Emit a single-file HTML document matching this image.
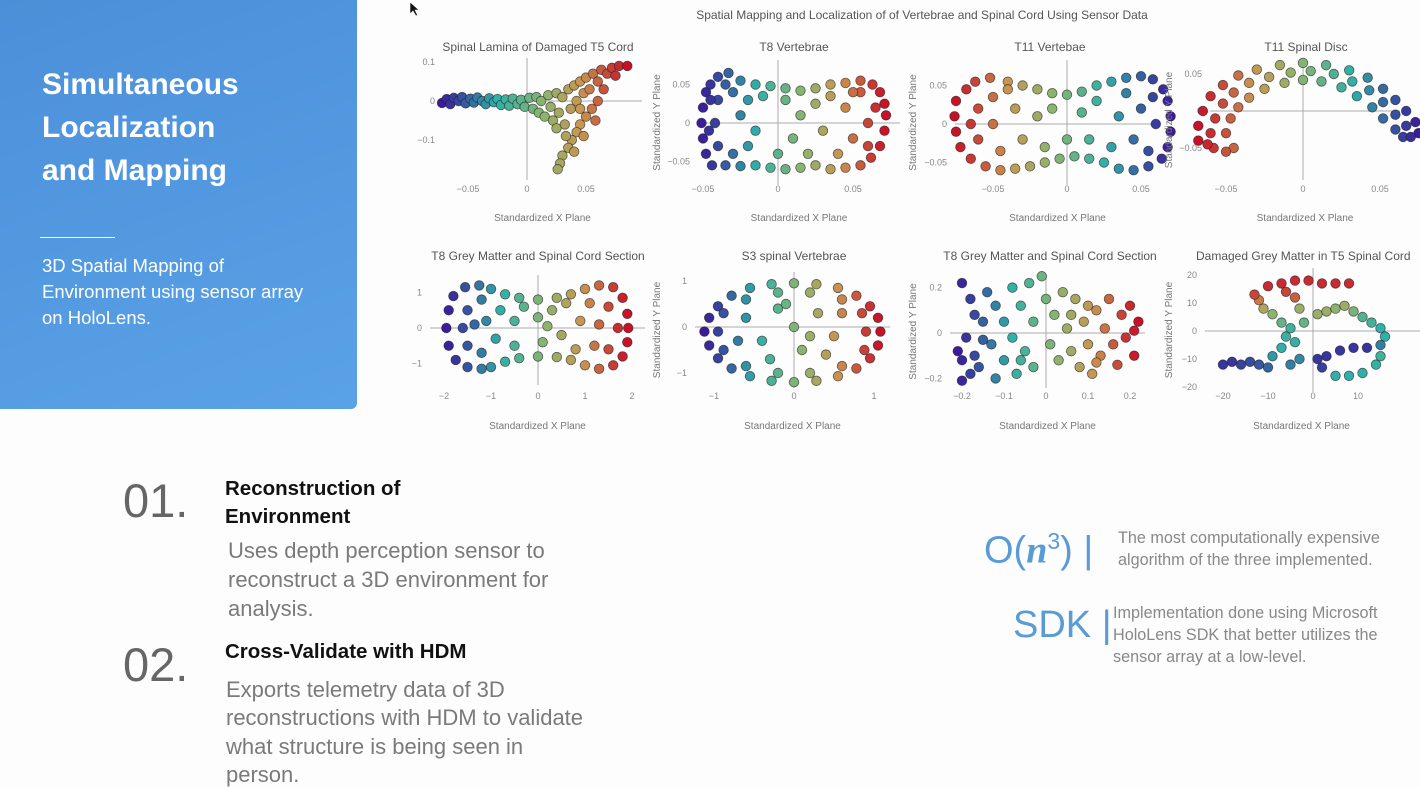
<!DOCTYPE html>
<html><head><meta charset="utf-8">
<style>
body{margin:0;width:1420px;height:780px;overflow:hidden;background:#fdfdfd;font-family:"Liberation Sans",sans-serif;position:relative}
.abs{position:absolute;margin:0;white-space:nowrap;line-height:1.15}
#panel{position:absolute;left:0;top:0;width:357px;height:409px;background:linear-gradient(160deg,#4b8fd8,#5aa2e8);border-radius:0 0 6px 0}
.ttl{color:#fff;font-weight:bold;font-size:30px;left:42px}
.sub{color:#fff;font-size:18.5px;left:42px}
.num{font-size:47px;color:#666}
.hd{font-size:20.5px;font-weight:bold;color:#111}
.ds{font-size:22px;color:#7a7a7a}
.rt{font-size:16.2px;color:#888}
.big{color:#5b9bd5;font-size:38px}
</style></head><body>
<div id="panel">
 <p class="abs ttl" style="top:68px">Simultaneous</p>
 <p class="abs ttl" style="top:111px">Localization</p>
 <p class="abs ttl" style="top:154px">and Mapping</p>
 <div class="abs" style="left:40px;top:237px;width:75px;height:1px;background:#fff"></div>
 <p class="abs sub" style="top:255px">3D Spatial Mapping of</p>
 <p class="abs sub" style="top:281px">Environment using sensor array</p>
 <p class="abs sub" style="top:307px">on HoloLens.</p>
</div>

<p class="abs num" style="left:123px;top:474px">01.</p>
<p class="abs hd" style="left:225px;top:477px">Reconstruction of</p>
<p class="abs hd" style="left:225px;top:505px">Environment</p>
<p class="abs ds" style="left:228px;top:538px">Uses depth perception sensor to</p>
<p class="abs ds" style="left:228px;top:567px">reconstruct a 3D environment for</p>
<p class="abs ds" style="left:228px;top:596px">analysis.</p>
<p class="abs num" style="left:123px;top:638px">02.</p>
<p class="abs hd" style="left:225px;top:640px">Cross-Validate with HDM</p>
<p class="abs ds" style="left:226px;top:677px">Exports telemetry data of 3D</p>
<p class="abs ds" style="left:226px;top:705px">reconstructions with HDM to validate</p>
<p class="abs ds" style="left:226px;top:734px">what structure is being seen in</p>
<p class="abs ds" style="left:226px;top:762px">person.</p>

<p class="abs big" style="left:984px;top:528px">O(<i style="font-family:'Liberation Serif',serif;font-weight:bold">n</i><sup style="font-size:23px">3</sup>) |</p>
<p class="abs rt" style="left:1118px;top:529px">The most computationally expensive</p>
<p class="abs rt" style="left:1118px;top:551px">algorithm of the three implemented.</p>
<p class="abs big" style="left:1013px;top:604px">SDK |</p>
<p class="abs rt" style="left:1113px;top:604px">Implementation done using Microsoft</p>
<p class="abs rt" style="left:1113px;top:626px">HoloLens SDK that better utilizes the</p>
<p class="abs rt" style="left:1113px;top:648px">sensor array at a low-level.</p>

<svg id="charts" width="1420" height="440" style="position:absolute;left:0;top:0">
 <text x="922" y="19" text-anchor="middle" font-size="12" fill="#555" font-family="Liberation Sans, sans-serif">Spatial Mapping and Localization of of Vertebrae and Spinal Cord Using Sensor Data</text>
 <path d="M410 2 L410 14 L413 11 L416 16 L417.5 15 L415 10 L419 10 Z" fill="#111" stroke="#fff" stroke-width="0.6"/>
</svg>

<script>
// ---- data ----
const c1x=[-0.072,-0.068,-0.065,-0.062,-0.058,-0.055,-0.052,-0.048,-0.045,-0.042,-0.038,-0.035,-0.032,-0.028,-0.025,-0.022,-0.018,-0.015,-0.012,-0.008,-0.005,-0.002,0.002,0.005,0.008,0.01,0.012,0.015,0.018,0.02,0.022,0.025,0.027,0.03,0.032,0.035,0.037,0.04,0.042,0.045,0.048,0.05,0.053,0.056,0.06,0.063,0.068,0.072,0.078,0.085,0.075,0.065,0.06,0.055,0.05,0.045,0.042,0.038,0.035,0.03,0.028,0.026,0.04,0.048,0.058,0.033,0.025,0.045];
const c1y=[-0.005,0.005,-0.008,0.008,0,0.01,-0.006,0.006,-0.004,0.009,0,-0.008,0.007,-0.003,0.005,-0.01,0.004,-0.012,0.006,-0.008,0.003,-0.015,0.008,-0.02,0.01,-0.03,0,-0.04,0.015,-0.015,-0.05,0.02,-0.03,0.01,-0.06,0.03,-0.02,0.04,0,0.05,0.02,0.06,0.03,0.07,0.05,0.08,0.07,0.085,0.09,0.09,0.065,0.03,0,-0.02,-0.04,-0.06,-0.08,-0.1,-0.12,-0.14,-0.16,-0.175,-0.13,-0.09,-0.05,-0.09,-0.07,-0.02];
const c2x=[-0.048,-0.05,-0.051,-0.05,-0.048,-0.044,-0.045,-0.04,-0.033,-0.025,-0.015,-0.005,0.005,0.015,0.025,0.035,0.045,0.055,0.063,0.068,0.071,0.072,0.071,0.068,0.062,0.055,0.045,0.035,0.025,0.015,0.005,-0.005,-0.015,-0.025,-0.035,-0.04,-0.04,-0.042,-0.03,-0.03,-0.02,-0.02,-0.025,-0.015,-0.01,0,0.005,0.01,0.015,0.02,0.025,0.03,0.035,0.04,0.045,0.05,0.055,0.06,0.06,0.065,0.05,-0.035,-0.045,-0.046];
const c2y=[0.04,0.02,0,-0.02,-0.04,-0.055,0.05,0.06,0.065,0.055,0.05,0.048,0.045,0.042,0.045,0.05,0.052,0.055,0.05,0.04,0.025,0.01,-0.01,-0.03,-0.045,-0.055,-0.058,-0.06,-0.055,-0.058,-0.06,-0.058,-0.055,-0.056,-0.055,0.03,-0.03,0,0.04,-0.04,0.03,-0.03,0.01,-0.01,0.035,-0.04,0.03,-0.02,0.01,-0.04,0.025,-0.01,0.035,-0.04,0.02,-0.02,0.04,0,-0.03,0.02,0.04,0.05,0.03,-0.01];
const c3x=[-0.075,-0.076,-0.075,-0.072,-0.068,-0.062,-0.052,-0.04,-0.03,-0.02,-0.01,0,0.01,0.02,0.03,0.04,0.05,0.058,0.065,0.068,0.07,0.07,0.068,0.064,0.055,0.045,0.035,0.025,0.015,0.005,-0.005,-0.015,-0.025,-0.035,-0.045,-0.055,-0.065,-0.06,-0.06,-0.05,-0.05,-0.045,-0.035,-0.03,-0.02,-0.015,-0.01,0,0.01,0.015,0.02,0.03,0.035,0.04,0.045,0.05,0.055,0.06,0.058,-0.065,-0.04];
const c3y=[0.03,0.01,-0.01,-0.03,0.045,0.055,0.06,0.055,0.05,0.045,0.04,0.038,0.042,0.05,0.055,0.06,0.062,0.058,0.045,0.03,0.01,-0.01,-0.03,-0.045,-0.055,-0.06,-0.058,-0.05,-0.045,-0.042,-0.045,-0.05,-0.055,-0.058,-0.06,-0.055,-0.045,0.02,-0.02,0.035,0,-0.035,0.02,-0.02,0.01,-0.03,0.02,-0.02,0.015,-0.02,0.03,-0.03,0.01,0.04,-0.02,0.02,-0.035,0,0.035,0,0.045];
const c4x=[-0.068,-0.068,-0.065,-0.06,-0.052,-0.042,-0.03,-0.015,0,0.015,0.03,0.042,0.052,0.06,0.067,0.073,0.075,-0.045,-0.05,-0.047,-0.042,-0.035,-0.025,-0.012,0,0.012,0.025,0.035,0.045,0.052,0.06,0.065,-0.058,-0.06,-0.057,-0.052,-0.045,-0.035,-0.022,-0.008,0.005,0.02,0.032,0.043,0.052,0.06,0.067,0.07,-0.05,-0.062];
const c4y=[-0.04,-0.02,0,0.02,0.035,0.048,0.056,0.062,0.065,0.062,0.055,0.045,0.03,0.015,0,-0.015,-0.03,-0.05,-0.03,-0.01,0.005,0.018,0.03,0.038,0.042,0.04,0.032,0.02,0.005,-0.01,-0.025,-0.035,-0.05,-0.03,-0.01,0.01,0.025,0.038,0.046,0.052,0.054,0.05,0.04,0.028,0.012,-0.005,-0.02,-0.035,-0.055,-0.045];
const c5x=[-1.9,-1.95,-1.9,-1.75,-1.5,-1.2,-1.8,-1.55,-1.25,-1,-0.7,-0.4,0,0.4,0.7,1,1.3,1.6,1.8,1.9,1.92,1.9,1.8,1.6,1.3,1,0.7,0.4,0,-0.4,-0.7,-1,-1.5,-1.5,-1.6,-1.2,-1.2,-1.1,-0.9,-0.8,-0.5,-0.5,-0.3,0,0.1,0.3,0.5,0.6,0.8,0.9,1.1,1.2,1.3,1.5,1.5,1.7,-1.35,0.2];
const c5y=[0.5,0,-0.5,-0.9,-1.1,-1.15,0.9,1.15,1.2,1.1,0.95,0.85,0.8,0.85,0.95,1.1,1.2,1.15,0.85,0.4,0,-0.4,-0.8,-1.05,-1.15,-1.05,-0.9,-0.82,-0.8,-0.85,-0.95,-1.1,0.5,-0.5,0,0.8,-0.7,0.2,-0.3,0.5,0.2,-0.5,0.6,0.3,-0.4,0.5,-0.2,0.7,-0.6,0.2,0.7,-0.5,0.1,0.6,-0.6,0,0.1,0.05];
const c6x=[1.08,1.05,0.95,0.78,0.55,0.28,0,-0.28,-0.55,-0.78,-0.95,-1.06,-1.12,-1.06,-0.95,-0.78,-0.55,-0.28,0,0.28,0.55,0.78,0.95,1.05,0.9,0.85,0.6,0.2,-0.2,-0.6,-0.88,-0.95,-0.88,-0.6,-0.2,0.2,0.6,0.88,-0.6,-0.4,-0.2,0,0.1,0.3,0.5,0.6,-0.7,0.2,-0.3,0.4,-0.1];
const c6y=[-0.1,0.2,0.45,0.68,0.85,0.93,0.95,0.93,0.85,0.68,0.45,0.2,-0.1,-0.4,-0.68,-0.9,-1.07,-1.17,-1.2,-1.17,-1.07,-0.9,-0.68,-0.4,-0.1,0.3,0.6,0.75,0.75,0.6,0.3,-0.1,-0.5,-0.85,-1,-1,-0.85,-0.5,0.2,-0.3,0.4,0,-0.5,0.3,-0.2,0.3,-0.3,-0.2,-0.7,-0.6,0.5];
const c7x=[-0.2,-0.18,-0.17,-0.19,-0.21,-0.2,-0.18,-0.2,-0.16,-0.15,-0.14,-0.13,-0.12,-0.12,-0.1,-0.1,-0.08,-0.08,-0.07,-0.06,-0.05,-0.04,-0.03,-0.03,-0.01,0,0.01,0.02,0.03,0.04,0.05,0.06,0.07,0.08,0.09,0.1,0.1,0.11,0.12,0.13,0.14,0.15,0.16,0.17,0.18,0.19,0.2,0.21,0.21,0.22,-0.17,-0.15,0.12,0.06,-0.06];
const c7y=[0.22,0.15,0.08,-0.02,-0.08,-0.12,-0.18,-0.21,-0.15,0.05,0.18,-0.05,0.12,-0.2,0.05,-0.12,0.2,-0.02,-0.18,0.12,-0.08,0.22,0.05,-0.15,0.25,0.15,-0.05,0.08,-0.12,0.18,0.02,-0.08,0.15,-0.15,0.05,0.12,-0.05,-0.18,0.1,-0.1,0.02,0.15,-0.05,-0.14,0.08,-0.02,0.12,0.01,-0.1,0.05,-0.1,-0.03,-0.13,0.08,-0.12];
const c8x=[-20,-18,-16,-14,-12,-10,-9,-7,-6,-5,-4,-3,-5,-7,-9,-11,-12,-13,-10,-7,-4,-1,2,5,8,-4,-6,1,3,5,7,9,11,13,15,16,15,12,9,6,3,1,2,5,8,11,14,15,-2,-3];
const c8y=[-12,-11,-12,-11,-12,-13,-9,-6,-2,1,-4,-10,-12,3,6,8,11,13,16,17,18,18,17,17,17,12,14,6,7,8,9,7,5,3,1,-2,-5,-6,-6,-7,-9,-10,-13,-16,-16,-15,-12,-9,3,8];
const c8c=[0.05,0.05,0.08,0.1,0.12,0.15,0.25,0.3,0.33,0.35,0.32,0.22,0.2,0.45,0.55,0.65,0.8,0.9,0.95,0.95,0.95,0.95,0.95,0.95,0.95,0.85,0.9,0.6,0.6,0.55,0.6,0.5,0.4,0.35,0.3,0.3,0.2,0.05,0.05,0.05,0.05,0.05,0.07,0.3,0.3,0.3,0.32,0.35,0.45,0.6];
const xt1=[-0.05,0,0.05], yt1=[0.1,0,-0.1];
const xt2=[-0.05,0,0.05], yt2=[0.05,0,-0.05];
const xt5=[-2,-1,0,1,2], yt5=[1,0,-1];
const xt6=[-1,0,1], yt6=[1,0,-1];
const xt7=[-0.2,-0.1,0,0.1,0.2], yt7=[0.2,0,-0.2];
const xt8=[-20,-10,0,10], yt8=[20,10,0,-10,-20];

// ---- layout (pixel configuration) ----
const charts=[
 {n:'spinal-lamina-t5',t:'Spinal Lamina of Damaged T5 Cord',x:c1x,y:c1y,xt:xt1,yt:yt1,ox:527,kx:1180,oy:101,ky:390,r:[443,642,58,180],tc:538,ty:47,ytl:false,rev:false},
 {n:'t8-vertebrae',t:'T8 Vertebrae',x:c2x,y:c2y,xt:xt2,yt:yt2,ox:778,kx:1500,oy:123,ky:770,r:[698,900,60,185],tc:794,ty:47,ytl:true,yl:660,rev:false},
 {n:'t11-vertebae',t:'T11 Vertebae',x:c3x,y:c3y,xt:xt2,yt:yt2,ox:1067,kx:1480,oy:124,ky:770,r:[955,1160,60,185],tc:1050,ty:47,ytl:true,yl:916,rev:true},
 {n:'t11-spinal-disc',t:'T11 Spinal Disc',x:c4x,y:c4y,xt:xt2,yt:yt2,ox:1303,kx:1540,oy:111,ky:740,r:[1210,1400,60,180],tc:1306,ty:47,ytl:true,yl:1172,rev:true},
 {n:'t8-grey-matter',t:'T8 Grey Matter and Spinal Cord Section',x:c5x,y:c5y,xt:xt5,yt:yt5,ox:538,kx:47,oy:328,ky:35.5,r:[430,645,275,385],tc:538,ty:256,ytl:false,rev:false},
 {n:'s3-vertebrae',t:'S3 spinal Vertebrae',x:c6x,y:c6y,xt:xt6,yt:yt6,ox:794,kx:80,oy:327,ky:46,r:[695,890,272,388],tc:794,ty:256,ytl:true,yl:660,rev:false},
 {n:'t8-grey-matter-2',t:'T8 Grey Matter and Spinal Cord Section',x:c7x,y:c7y,xt:xt7,yt:yt7,ox:1046,kx:420,oy:333,ky:227,r:[950,1145,275,388],tc:1050,ty:256,ytl:true,yl:916,rev:false},
 {n:'damaged-grey-matter-t5',t:'Damaged Grey Matter in T5 Spinal Cord',x:c8x,y:c8y,c:c8c,xt:xt8,yt:yt8,ox:1313,kx:4.5,oy:331,ky:2.8,r:[1205,1420,268,392],tc:1196,ty:256,anchor:'start',ytl:true,yl:1172,rev:false}
];
const stops=[[0,[58,28,156]],[0.3,[48,176,168]],[0.55,[140,180,110]],[0.75,[200,150,80]],[1,[200,16,40]]];
function col(t){t=Math.max(0,Math.min(1,t));for(let i=1;i<stops.length;i++){if(t<=stops[i][0]){const a=stops[i-1],b=stops[i],f=(t-a[0])/(b[0]-a[0]);return 'rgb('+a[1].map((v,j)=>Math.round(v+(b[1][j]-v)*f)).join(',')+')';}}return 'rgb(200,16,40)';}
const NS='http://www.w3.org/2000/svg', svg=document.getElementById('charts');
function mk(tag,at,parent){const e=document.createElementNS(NS,tag);for(const k in at)e.setAttribute(k,at[k]);(parent||svg).appendChild(e);return e;}
charts.forEach((c,ci)=>{
 const g=mk('g',{});
 
 
 const sx=v=>c.ox+v*c.kx, sy=v=>c.oy-v*c.ky;
 const r=c.r, row2=ci>=4;
 const hl=mk('line',{x1:r[0],x2:Math.min(r[1],1420),y1:c.oy,y2:c.oy,stroke:'#aaa','stroke-width':1},g);
 
 
 const vl=mk('line',{x1:c.ox,x2:c.ox,y1:r[2],y2:r[3],stroke:'#aaa','stroke-width':1},g);
 
 
 const ti=mk('text',{x:c.tc,y:c.ty+4,'text-anchor':c.anchor||'middle','font-size':12,fill:'#555','font-family':'Liberation Sans, sans-serif'},g);
 ti.textContent=c.t;
 
 
 const xl=mk('text',{x:(r[0]+Math.min(r[1],1410))/2+ (ci==7?-6:0),y:row2?429:221,'text-anchor':'middle','font-size':10,fill:'#777','font-family':'Liberation Sans, sans-serif'},g);
 xl.textContent='Standardized X Plane';
 
 
 if(c.ytl){const yy=(r[2]+r[3])/2;
  const yl=mk('text',{x:c.yl,y:yy,'text-anchor':'middle','font-size':10,fill:'#777','font-family':'Liberation Sans, sans-serif',transform:'rotate(-90 '+c.yl+' '+yy+')'},g);
  yl.textContent='Standardized Y Plane';
  
  }
 c.xt.forEach(v=>{const t=mk('text',{x:sx(v),y:row2?399:192,'text-anchor':'middle','font-size':9,fill:'#888','font-family':'Liberation Sans, sans-serif'},g);
  t.textContent=(v<0?'\u2212':'')+Math.abs(v);
  
  });
 c.yt.forEach(v=>{const t=mk('text',{x:r[0]-8,y:sy(v)+3,'text-anchor':'end','font-size':9,fill:'#888','font-family':'Liberation Sans, sans-serif'},g);
  t.textContent=(v<0?'\u2212':'')+Math.abs(v);
  
  });
 const xmin=Math.min(...c.x), xmax=Math.max(...c.x);
 c.x.forEach((v,i)=>{let t=c.c?c.c[i]:(v-xmin)/(xmax-xmin); if(c.rev)t=1-t;
  const p=mk('circle',{cx:sx(v),cy:sy(c.y[i]),r:4.8,fill:col(t),stroke:'rgba(30,30,30,0.65)','stroke-width':0.8},g);
  
  });
});
</script>
</body></html>
